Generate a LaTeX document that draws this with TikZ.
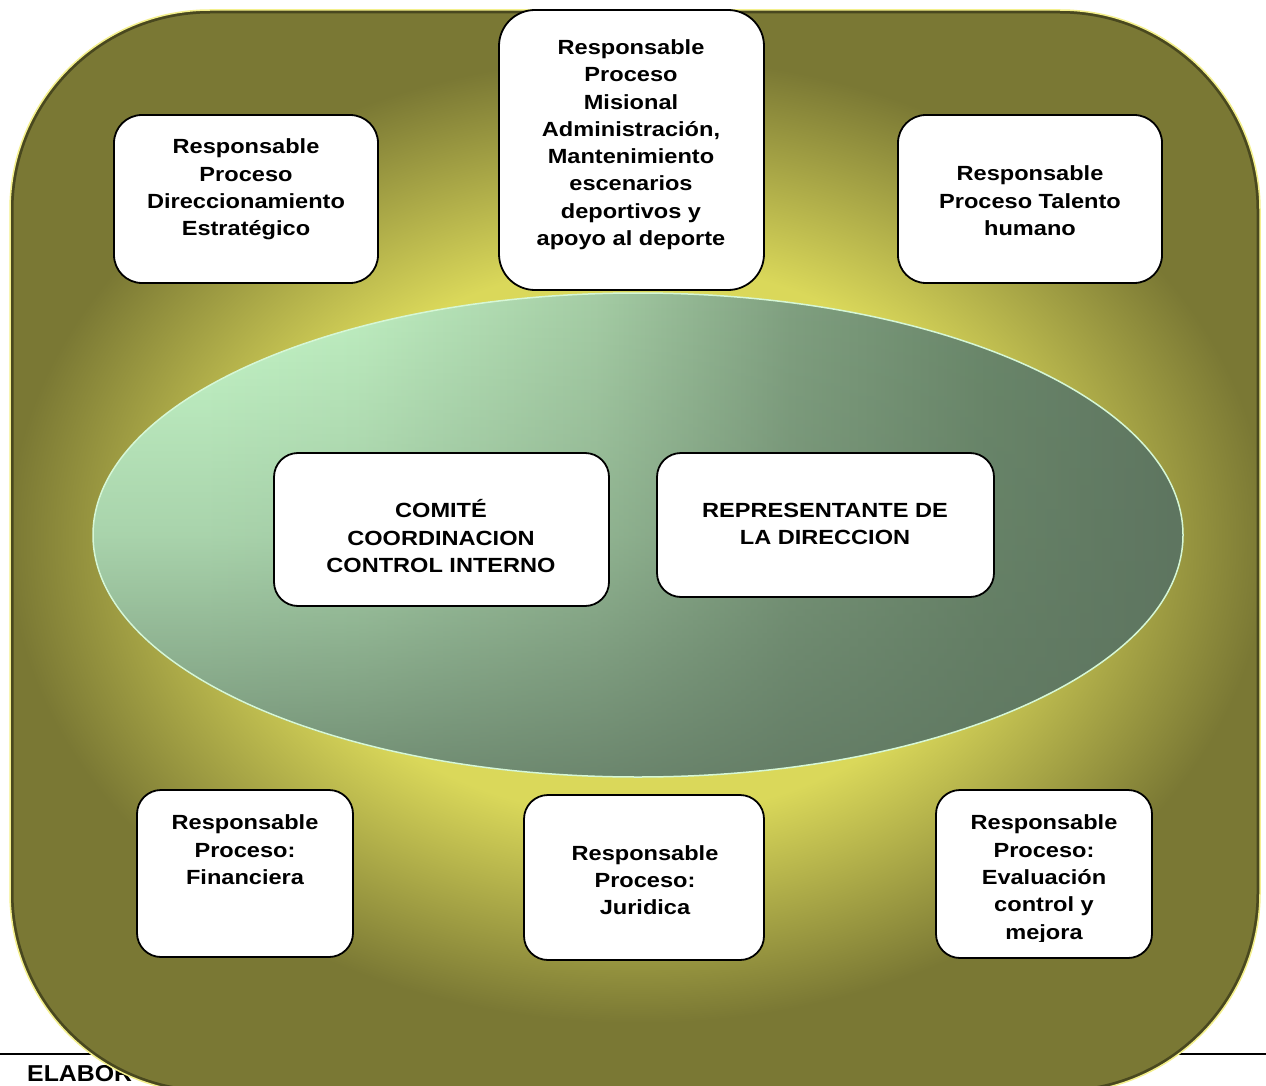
\documentclass[tikz,border=0pt]{standalone}
\usepackage{fontspec}
\usepackage{graphicx}
\setmainfont{Liberation Sans}
\usetikzlibrary{fadings}
\definecolor{olv}{HTML}{7A7834}
\definecolor{yel}{HTML}{DAD85A}
\definecolor{rimy}{HTML}{F4F08C}
\definecolor{gl}{HTML}{C6F8C9}
\definecolor{g2}{HTML}{BFEFC1}
\definecolor{g3}{HTML}{A5CDA5}
\definecolor{g4}{HTML}{80A080}
\definecolor{g5}{HTML}{6A876A}
\definecolor{gd}{HTML}{5E7560}
\definecolor{ellrim}{HTML}{D6F7D6}
\pgfdeclareradialshading{bgrad}{\pgfpoint{0bp}{0bp}}{color(0bp)=(yel); color(10bp)=(yel); color(17.5bp)=(olv); color(50bp)=(olv)}
\pgfdeclarehorizontalshading{ellh}{100bp}{color(0bp)=(gl); color(30bp)=(gl); color(37bp)=(g2); color(48bp)=(g3); color(57bp)=(g4); color(66bp)=(g5); color(75bp)=(gd); color(100bp)=(gd)}
\tikzfading[name=fadedown, top color=transparent!100, bottom color=transparent!20, middle color=transparent!72]
\newcommand\mltext[1]{\scalebox{1.15}[1]{\begin{tabular}{@{}c@{}}#1\end{tabular}}}
\tikzset{
  whitebox/.style={draw=black, line width=1.8pt, fill=white, rounded corners=#1, inner sep=0pt},
  whitebox/.default=28pt,
  lbl/.style={inner sep=0pt, font=\fontsize{20.5}{27.3}\selectfont\bfseries},
}
\begin{document}
\begin{tikzpicture}[x=1pt,y=-1pt]
\useasboundingbox (0,0) rectangle (1266,1086);
\fill[white] (0,0) rectangle (1266,1086);
% footer
\coordinate (fl) at (0,1054);
\coordinate (fr) at (1266,1054);
\draw[line width=2.2pt] (fl) -- (fr);
\node[anchor=base west, inner sep=0pt, font=\fontsize{23}{26}\selectfont\bfseries] (elab) at (27,1081) {\scalebox{1.08}[1]{ELABOR}};
% outer rounded panel
\begin{scope}
  \clip[rounded corners=200pt] (10,10) rectangle (1260,1093);
  \shade[shading=bgrad] (-262,-150) rectangle (1538,1230);
  \draw[rounded corners=200pt, line width=7pt, black, opacity=0.4] (10,10) rectangle (1260,1093);
\end{scope}
\draw[rounded corners=200pt, line width=1.5pt, rimy] (10,10) rectangle (1260,1093);
% central ellipse
\shade[shading=ellh] (638,535) ellipse [x radius=545, y radius=242];
\fill[gd, path fading=fadedown] (638,535) ellipse [x radius=545, y radius=242];
\draw[ellrim, line width=1.5pt] (638,535) ellipse [x radius=545, y radius=242];
% boxes
\node[whitebox, minimum width=264pt, minimum height=168pt] (b1) at (246,199) {};
\node[whitebox=36pt, minimum width=265pt, minimum height=280pt] (b2) at (631.5,150) {};
\node[whitebox, minimum width=264pt, minimum height=168pt] (b3) at (1030,199) {};
\node[whitebox=24pt, minimum width=335pt, minimum height=153pt] (b4) at (441.5,529.5) {};
\node[whitebox=24pt, minimum width=337pt, minimum height=144pt] (b5) at (825.5,525) {};
\node[whitebox=24pt, minimum width=216pt, minimum height=167pt] (b6) at (245,873.5) {};
\node[whitebox=24pt, minimum width=240pt, minimum height=165pt] (b7) at (644,877.5) {};
\node[whitebox=24pt, minimum width=216pt, minimum height=168pt] (b8) at (1044,874) {};
% texts
\node[lbl] (t1) at (246,189.3) {\mltext{Responsable\\Proceso\\Direccionamiento\\Estratégico}};
\node[lbl] (t2) at (631,144.5) {\mltext{Responsable\\Proceso\\Misional\\Administración,\\Mantenimiento\\escenarios\\deportivos y\\apoyo al deporte}};
\node[lbl] (t3) at (1030,202.8) {\mltext{Responsable\\Proceso Talento\\humano}};
\node[lbl] (t4) at (441,539.8) {\mltext{COMITÉ\\COORDINACION\\CONTROL INTERNO}};
\node[lbl] (t5) at (825,525.8) {\mltext{REPRESENTANTE DE\\LA DIRECCION}};
\node[lbl] (t6) at (245,851.8) {\mltext{Responsable\\Proceso:\\Financiera}};
\node[lbl] (t7) at (645,882) {\mltext{Responsable\\Proceso:\\Juridica}};
\begin{scope}
  \clip (930,785) rectangle (1160,941.5);
  \node[lbl] (t8) at (1044,879.1) {\mltext{Responsable\\Proceso:\\Evaluación\\control y\\mejora}};
\end{scope}
\end{tikzpicture}
\end{document}
